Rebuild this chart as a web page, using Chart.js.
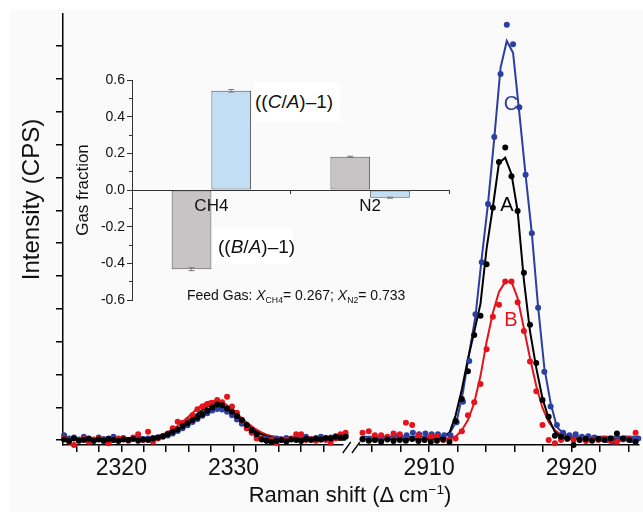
<!DOCTYPE html>
<html>
<head>
<meta charset="utf-8">
<script src="https://cdn.jsdelivr.net/npm/chart.js@4.4.1/dist/chart.umd.min.js"></script>
<style>
  body { margin: 0; background: #fff; }
  #wrap { position: relative; width: 643px; height: 512px; overflow: hidden; font-family: "Liberation Sans", Arial, sans-serif; }
  #paper { position: absolute; left: 10px; top: 10px; right: 0; bottom: 0; background: #fafafa; }
  canvas { position: absolute; }
  .txt { position: absolute; white-space: nowrap; line-height: 1; color: #111; }
  .mid { transform: translate(-50%, -50%); }
  .box { position: absolute; background: #fff; display: flex; align-items: center; white-space: nowrap; color: #111; box-sizing: border-box; }
  sub { font-size: 0.62em; vertical-align: -0.35em; line-height: 0; }
  sup { font-size: 0.62em; vertical-align: 0.6em; line-height: 0; }
</style>
</head>
<body>
<div id="wrap">
  <div id="paper"></div>
  <canvas id="main" width="643" height="512" style="left:0;top:0"></canvas>
  <canvas id="inset" width="400" height="260" style="left:60px;top:60px"></canvas>
  <div class="txt mid" style="left:511px;top:103px;font-size:20px;color:#2a3f9f">C</div>
  <div class="txt mid" style="left:507px;top:204px;font-size:20px;color:#000">A</div>
  <div class="txt mid" style="left:511px;top:319px;font-size:20px;color:#e3141b">B</div>
  <div class="box" style="left:253px;top:82px;width:87px;height:40px;font-size:19px;padding-left:2px">((<i>C</i>/<i>A</i>)–1)</div>
  <div class="box" style="left:213px;top:229px;width:80px;height:35px;font-size:19px;padding-left:5px">((<i>B</i>/<i>A</i>)–1)</div>
  <div class="txt" style="left:187px;top:288px;font-size:14px">Feed Gas: <i>X</i><sub>CH4</sub>= 0.267; <i>X</i><sub>N2</sub>= 0.733</div>
  <div class="txt mid" style="left:350px;top:495px;font-size:22px">Raman shift (Δ cm<sup>−1</sup>)</div>
</div>
<script>
"use strict";

// ---- Raman spectra, CH4/N2 region split by an axis break ----
var leftX = [2314.90, 2315.34, 2315.78, 2316.22, 2316.66, 2317.10, 2317.54, 2317.98, 2318.42, 2318.86,
  2319.30, 2319.74, 2320.18, 2320.62, 2321.06, 2321.50, 2321.94, 2322.38, 2322.82, 2323.26,
  2323.70, 2324.14, 2324.58, 2325.02, 2325.46, 2325.90, 2326.34, 2326.78, 2327.22, 2327.66,
  2328.10, 2328.54, 2328.98, 2329.42, 2329.86, 2330.30, 2330.74, 2331.18, 2331.62, 2332.06,
  2332.50, 2332.94, 2333.38, 2333.82, 2334.26, 2334.70, 2335.14, 2335.58, 2336.02, 2336.46,
  2336.90, 2337.34, 2337.78, 2338.22, 2338.66, 2339.10, 2339.54, 2339.98];

var leftA = [0.02, -0.03, 0.05, -0.02, 0.0, 0.04, -0.03, 0.02, -0.02, 0.03, 0.0, -0.03, 0.02, 0.0, 0.03, -0.02, 0.02, 0.0,
  0.05, 0.08, 0.12, 0.18, 0.25, 0.32, 0.42, 0.51, 0.61, 0.69, 0.78, 0.89, 0.99, 1.08, 1.06, 0.96, 0.86, 0.73, 0.61, 0.46, 0.30, 0.18, 0.02,
  -0.02, -0.05, -0.03, 0.0, -0.04, 0.02, 0.0, -0.03, 0.03, 0.0, 0.04, 0.02, 0.06, 0.05, 0.1, 0.08, 0.1];
var leftB = [0.05, -0.05, -0.15, 0.0, 0.03, -0.05, 0.02, 0.05, -0.03, -0.1, 0.0, 0.05, 0.03, -0.02, 0.08, 0.18, 0.0, 0.25, -0.05, 0.05, 0.12,
  0.2, 0.36, 0.56, 0.53, 0.61, 0.76, 0.94, 1.02, 1.1, 1.14, 1.22, 1.15, 1.32, 1.02, 0.83, 0.6, 0.36, 0.22, 0.05,
  0.05, -0.02, 0.0, -0.08, 0.02, 0.0, 0.05, 0.18, 0.18, 0.0, 0.03, -0.02, 0.02, 0.0, -0.08, 0.05, 0.18, 0.22];
var leftC = [0.15, 0.05, 0.08, 0.02, 0.1, 0.05, 0.0, 0.08, 0.03, 0.05, 0.1, 0.02, 0.06, 0.0, 0.05, 0.08, 0.03, 0.05,
  0.06, 0.08, 0.1, 0.14, 0.2, 0.28, 0.36, 0.45, 0.55, 0.64, 0.74, 0.82, 0.9, 0.95, 0.93, 0.86, 0.76, 0.63, 0.5, 0.36, 0.24, 0.12, 0.05,
  0.03, 0.0, 0.05, 0.02, 0.06, 0.03, 0.08, 0.05, 0.1, 0.03, 0.06, 0.1, 0.05, 0.08, 0.12, 0.1, 0.14];

var leftFitX = [2315, 2316, 2317, 2318, 2319, 2320, 2321, 2322, 2323, 2324, 2325, 2326, 2327,
  2328, 2329, 2330, 2331, 2332, 2333, 2334, 2335, 2336, 2337, 2338, 2339, 2340];
var leftFitA = [0.01, 0.01, 0.01, 0.01, 0.01, 0.01, 0.01, 0.02, 0.05, 0.13, 0.30, 0.57, 0.86,
  1.05, 1.03, 0.81, 0.51, 0.26, 0.11, 0.04, 0.02, 0.01, 0.01, 0.01, 0.01, 0.01];
var leftFitB = [0.03, 0.03, 0.03, 0.03, 0.03, 0.03, 0.035, 0.05, 0.10, 0.22, 0.42, 0.72, 1.01,
  1.18, 1.14, 0.90, 0.59, 0.33, 0.16, 0.08, 0.044, 0.03, 0.03, 0.03, 0.03, 0.03];
var leftFitC = [0.05, 0.05, 0.05, 0.05, 0.05, 0.05, 0.05, 0.06, 0.08, 0.15, 0.29, 0.52, 0.79,
  0.97, 0.97, 0.79, 0.52, 0.29, 0.15, 0.08, 0.06, 0.05, 0.05, 0.05, 0.05, 0.05];

var rightX = [2905.32, 2905.76, 2906.19, 2906.63, 2907.07, 2907.50, 2907.94, 2908.37, 2908.81, 2909.25,
  2909.68, 2910.12, 2910.55, 2910.99, 2911.43, 2911.86, 2912.30, 2912.73, 2913.17, 2913.61,
  2914.04, 2914.48, 2914.91, 2915.35, 2915.79, 2916.22, 2916.66, 2917.09, 2917.53, 2917.97,
  2918.40, 2918.84, 2919.27, 2919.71, 2920.15, 2920.58, 2921.02, 2921.45, 2921.89, 2922.33,
  2922.76, 2923.20, 2923.63, 2924.07, 2924.51];
var rightXC = [2905.34, 2905.78, 2906.22, 2906.66, 2907.10, 2907.54, 2907.98, 2908.42, 2908.86, 2909.30,
  2909.74, 2910.18, 2910.62, 2911.06, 2911.50, 2911.94, 2912.38, 2912.82, 2913.26, 2913.70,
  2914.14, 2914.58, 2915.02, 2915.46, 2915.90, 2916.34, 2916.78, 2917.22, 2917.66, 2918.10,
  2918.54, 2918.98, 2919.42, 2919.86, 2920.30, 2920.74, 2921.18, 2921.62, 2922.06, 2922.50,
  2922.94, 2923.38, 2923.82, 2924.26, 2924.70];

var rightA = [0.03, -0.02, 0.0, -0.05, 0.02, -0.03, 0.0, -0.02, 0.03, -0.03, 0.0, -0.05, -0.02, 0.02, -0.05,
  0.58, 1.25, 2.10, 3.20, 3.79, 5.36, 7.08, 8.47, 8.91, 8.04, 6.98, 5.10, 3.51, 2.35, 1.22, 0.71,
  0.13, 0.1, 0.05, -0.15, 0.0, 0.03, -0.02, 0.03, 0.0, 0.05, 0.2, 0.05, 0.0, -0.05];
var rightB = [0.22, 0.27, 0.15, 0.15, 0.1, 0.2, 0.18, 0.53, 0.46, 0.15, 0.02, 0.1, 0.12, 0.0, 0.02,
  0.05, 0.27, 0.76, 1.15, 1.71, 2.77, 3.76, 4.12, 4.83, 4.83, 4.20, 3.32, 2.39, 1.49, 0.46, 0.0, -0.1,
  0.0, 0.03, 0.0, 0.02, -0.03, 0.02, 0.0, 0.05, -0.03, -0.05, 0.02, 0.05, 0.22];
var rightC = [0.02, 0.0, 0.02, 0.02, 0.08, 0.15, 0.1, 0.15, 0.22, 0.18, 0.2, 0.18, 0.18, 0.15, 0.15,
  0.54, 1.17, 2.41, 3.83, 5.42, 7.19, 9.23, 11.15, 12.65, 12.06, 10.14, 8.08, 6.30, 4.03, 2.08, 1.02, 0.46,
  0.22, 0.15, 0.18, 0.1, 0.12, 0.08, 0.03, 0.0, -0.05, 0.03, 0.05, 0.0, 0.05];

var rightFitA = [0.02, 0.02, 0.02, 0.02, 0.02, 0.02, 0.02, 0.02, 0.02, 0.02, 0.02, 0.03,
  0.04, 0.08, 0.21, 0.75, 1.54, 2.47, 3.3, 4.15, 5.83, 7.1, 8.44,
  8.6, 8.1, 6.98, 4.88, 3.32, 2.2, 1.27, 0.66, 0.25, 0.1, 0.05,
  0.03, 0.03, 0.02, 0.02, 0.02, 0.02, 0.02, 0.02, 0.02, 0.02, 0.02];
var rightFitB = [0.04, 0.04, 0.04, 0.04, 0.04, 0.04, 0.04, 0.04, 0.04, 0.04, 0.04, 0.04, 0.04, 0.04, 0.05,
  0.1, 0.3, 0.61, 1.13, 1.95, 2.99, 3.87, 4.51, 4.82, 4.82, 4.33, 3.41, 2.5, 1.65, 0.98, 0.55, 0.3, 0.17, 0.1, 0.07, 0.05,
  0.05, 0.05, 0.05, 0.05, 0.05, 0.05, 0.05, 0.05, 0.05];
var rightFitC = [0.1, 0.1, 0.1, 0.1, 0.1, 0.1, 0.1, 0.1, 0.1, 0.1, 0.1, 0.1, 0.1,
  0.13, 0.25, 0.58, 1.46, 2.65, 3.78, 5.55, 7.2, 9.2, 11.34, 12.16, 11.8, 9.97, 8.08, 6.3, 4.06, 2.19, 1.13, 0.4, 0.2, 0.12,
  0.1, 0.1, 0.1, 0.1, 0.1, 0.1, 0.1, 0.1, 0.1, 0.1, 0.1];

// ---- inset: gas fraction ratios ----
var gasCategories = ["CH4", "N2"];
var ratioBA = [-0.432, 0.181];
var ratioCA = [0.541, -0.042];
var errBA = [0.008, 0.003];
var errCA = [0.007, 0.003];

var colors = { A: "#000000", B: "#e3141b", C: "#2a3f9f" };

Chart.defaults.font.family = '"Liberation Sans", Arial, sans-serif';
Chart.defaults.color = "#111";

function pts(xs, ys) {
  return ys.map(function(y, i) { return { x: xs[i], y: y }; });
}

function dots(xs, ys, color, axis) {
  return {
    data: pts(xs, ys), xAxisID: axis, yAxisID: "y", showLine: false,
    pointRadius: 3, pointBackgroundColor: color, pointBorderWidth: 0, clip: false
  };
}

function fitLine(xs, ys, color, axis, smooth) {
  return {
    data: pts(xs, ys), xAxisID: axis, yAxisID: "y", showLine: true,
    borderColor: color, borderWidth: 2, pointRadius: 0, clip: false,
    tension: smooth ? 0.4 : 0, cubicInterpolationMode: smooth ? "monotone" : "default"
  };
}

function tenOnly(v) { return v % 10 === 0 ? String(v) : ""; }
// every box in the bottom stack gets the same height so the stack adds up right
function stackHeight(s) { s.height = 67; }

var axisBreak = {
  id: "axisBreak",
  afterDraw: function(chart) {
    var a = chart.scales.x1.right, b = chart.scales.x2.left, y = chart.chartArea.bottom;
    var ctx = chart.ctx;
    ctx.save();
    ctx.strokeStyle = "#000";
    ctx.lineWidth = 1.3;
    ctx.beginPath();
    ctx.moveTo(a, y + 8); ctx.lineTo(a + 8, y - 3);
    ctx.moveTo(b - 8, y + 8); ctx.lineTo(b, y - 3);
    ctx.stroke();
    ctx.restore();
  }
};

var xTickStyle = {
  stepSize: 2, includeBounds: false, autoSkip: false, maxRotation: 0, minRotation: 0,
  padding: 3, color: "#111", font: { size: 23 }, callback: tenOnly
};
var xGrid = { drawOnChartArea: false, tickLength: 7, color: "#000", lineWidth: 1.5 };
var xBorder = { color: "#000", width: 1.5 };

new Chart(document.getElementById("main"), {
  type: "scatter",
  data: {
    datasets: [
      dots(leftX, leftA, colors.A, "x1"),
      dots(rightX, rightA, colors.A, "x2"),
      dots(leftX, leftB, colors.B, "x1"),
      dots(rightX, rightB, colors.B, "x2"),
      dots(leftX, leftC, colors.C, "x1"),
      dots(rightXC, rightC, colors.C, "x2"),
      fitLine(leftFitX, leftFitA, colors.A, "x1", true),
      fitLine(rightX, rightFitA, colors.A, "x2", false),
      fitLine(leftFitX, leftFitB, colors.B, "x1", true),
      fitLine(rightX, rightFitB, colors.B, "x2", false),
      fitLine(leftFitX, leftFitC, colors.C, "x1", true),
      fitLine(rightXC, rightFitC, colors.C, "x2", false)
    ]
  },
  options: {
    responsive: false,
    animation: false,
    events: [],
    layout: { padding: { top: 14, left: 0, right: 0, bottom: 0 } },
    plugins: { legend: { display: false }, tooltip: { enabled: false } },
    scales: {
      y: {
        position: "left", min: -0.15, max: 12.98,
        afterFit: function(s) { s.width = 63; },
        ticks: { display: false, stepSize: 1, includeBounds: false },
        grid: { drawOnChartArea: false, tickLength: 7, color: "#000", lineWidth: 1.5 },
        border: { color: "#000", width: 1.5 },
        title: {
          display: true,
          text: "\u00a0\u00a0\u00a0\u00a0\u00a0\u00a0\u00a0\u00a0\u00a0Intensity (CPS)",
          color: "#111", font: { size: 24 }, padding: { top: 17.6, bottom: 0 }
        }
      },
      x1: {
        type: "linear", position: "bottom", stack: "raman", stackWeight: 281.7, weight: 1,
        min: 2314.8, max: 2339.73, afterFit: stackHeight,
        ticks: xTickStyle, grid: xGrid, border: xBorder
      },
      xgap: {
        type: "linear", position: "bottom", stack: "raman", stackWeight: 17.3, weight: 2,
        min: 0, max: 1, afterFit: stackHeight,
        ticks: { display: false }, grid: { display: false, drawTicks: false }, border: { display: false }
      },
      x2: {
        type: "linear", position: "bottom", stack: "raman", stackWeight: 281.0, weight: 3,
        min: 2905.14, max: 2924.75, afterFit: stackHeight,
        ticks: xTickStyle, grid: xGrid, border: xBorder
      }
    }
  },
  plugins: [axisBreak]
});

var errorBars = {
  id: "errorBars",
  afterDatasetsDraw: function(chart) {
    var ctx = chart.ctx, yScale = chart.scales.y;
    var errs = [errBA, errCA];
    ctx.save();
    ctx.strokeStyle = "#7a7a7a";
    ctx.lineWidth = 1;
    chart.data.datasets.forEach(function(ds, d) {
      chart.getDatasetMeta(d).data.forEach(function(bar, i) {
        var v = ds.data[i], e = errs[d][i];
        var top = yScale.getPixelForValue(v + e), bot = yScale.getPixelForValue(v - e);
        ctx.beginPath();
        ctx.moveTo(bar.x, top); ctx.lineTo(bar.x, bot);
        ctx.moveTo(bar.x - 3, top); ctx.lineTo(bar.x + 3, top);
        ctx.moveTo(bar.x - 3, bot); ctx.lineTo(bar.x + 3, bot);
        ctx.stroke();
      });
    });
    ctx.restore();
  }
};

new Chart(document.getElementById("inset"), {
  type: "bar",
  data: {
    labels: gasCategories,
    datasets: [
      { data: ratioBA, backgroundColor: "#c6c4c4", borderColor: "#555", borderWidth: 1, borderSkipped: false },
      { data: ratioCA, backgroundColor: "#c2def4", borderColor: "#555", borderWidth: 1, borderSkipped: false }
    ]
  },
  options: {
    responsive: false,
    animation: false,
    events: [],
    layout: { padding: { left: 0, top: 20, right: 10.5, bottom: 20 } },
    plugins: { legend: { display: false }, tooltip: { enabled: false } },
    datasets: { bar: { categoryPercentage: 0.5, barPercentage: 1.0 } },
    scales: {
      x: {
        position: { y: 0 },
        grid: { drawOnChartArea: false, offset: true, tickLength: 3, color: "#333" },
        border: { color: "#333", width: 1 },
        ticks: { color: "#111", font: { size: 17 }, padding: 3, z: 1 }
      },
      y: {
        position: "left", min: -0.6, max: 0.6, weight: 0,
        afterFit: function(s) { s.width = 72; },
        ticks: {
          stepSize: 0.2, padding: 2, color: "#111", font: { size: 14 },
          callback: function(v) { return Math.abs(v) < 1e-9 ? "0.0" : v.toFixed(1); }
        },
        grid: { drawOnChartArea: false, tickLength: 5, color: "#333" },
        border: { color: "#333", width: 1 },
        title: { display: true, text: "Gas fraction", color: "#111", font: { size: 17 }, padding: { top: 12.8, bottom: 0 } }
      },
      ym: {
        position: "left", weight: -1, min: -0.6, max: 0.6,
        afterFit: function(s) { s.width = 0; },
        ticks: { display: false, stepSize: 0.1 },
        grid: { drawOnChartArea: false, tickLength: 3, color: "#333" },
        border: { display: false }
      }
    }
  },
  plugins: [errorBars]
});
</script>
</body>
</html>
